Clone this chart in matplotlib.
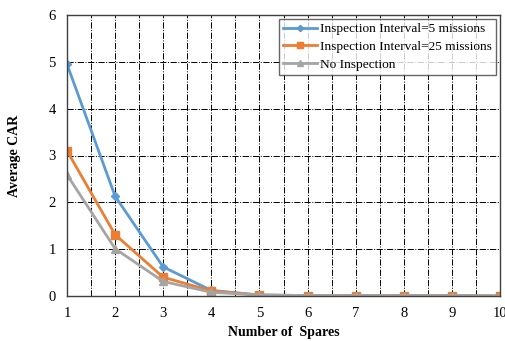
import numpy as np
import matplotlib.pyplot as plt

plt.rcParams['font.family'] = ['Liberation Serif', 'DejaVu Serif']

spares = [1, 2, 3, 4, 5, 6, 7, 8, 9, 10]
interval_5 = [4.95, 2.13, 0.62, 0.12, 0.02, 0.01, 0.01, 0.01, 0.01, 0.0]
interval_25 = [3.1, 1.31, 0.4, 0.11, 0.02, 0.01, 0.01, 0.01, 0.01, 0.0]
no_inspection = [2.59, 1.01, 0.31, 0.08, 0.02, 0.01, 0.01, 0.01, 0.01, 0.0]
labels = ['Inspection Interval=5 missions', 'Inspection Interval=25 missions', 'No Inspection']

fig = plt.figure(figsize=(5.05, 3.41), dpi=100)
ax = fig.add_axes([67/505, 45/341, 433/505, 281/341])

ax.plot(spares, interval_5, color='#5B9BD5', marker='D', markersize=4, lw=2, label=labels[0])
ax.plot(spares, interval_25, color='#ED7D31', marker='s', markersize=6, lw=2, label=labels[1])
ax.plot(spares, no_inspection, color='#A5A5A5', marker='^', markersize=6, lw=2, label=labels[2])

ax.set_xlim(1, 10)
ax.set_ylim(0, 6)
ax.set_xticks(range(1, 11))
ax.set_xticks(np.arange(1.5, 10, 1), minor=True)
ax.set_yticks(range(0, 7))
ax.tick_params(which='both', length=0, labelsize=10.5, pad=8)
ax.grid(True, which='both', color='black', linestyle='-.', lw=0.7)
ax.set_axisbelow(True)
for s in ax.spines.values():
    s.set_color('#404040')
    s.set_linewidth(1.0)

ax.set_xlabel('Number of  Spares', fontweight='bold', fontsize=10)
ax.set_ylabel('Average CAR', fontweight='bold', fontsize=10, labelpad=20)

leg = ax.legend(loc='upper right', fontsize=9.6, frameon=True, fancybox=False,
                edgecolor='#404040', borderpad=0.3, labelspacing=0.4,
                handlelength=2.6, handletextpad=0.2, borderaxespad=0.3,
                markerscale=0.8)
leg.get_frame().set_linewidth(1.0)

fig.savefig('out.png', dpi=100)
